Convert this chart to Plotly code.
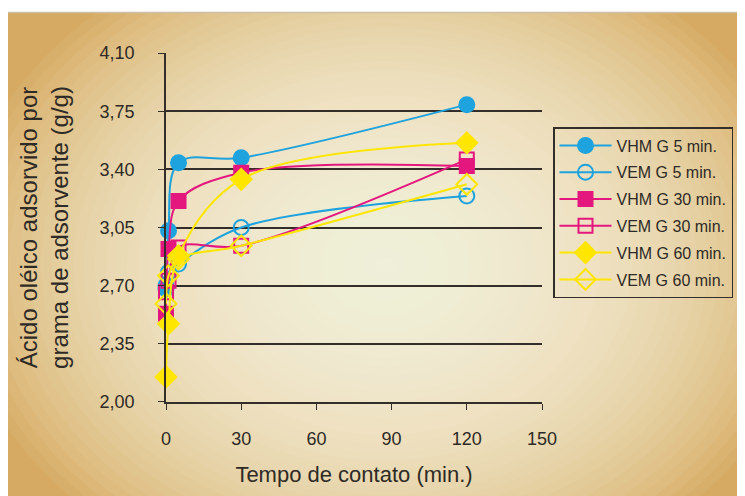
import plotly.graph_objects as go

# ---- data ----
times = [0, 1, 5, 30, 120]
series_names = ["VHM G 5 min.", "VEM G 5 min.", "VHM G 30 min.",
                "VEM G 30 min.", "VHM G 60 min.", "VEM G 60 min."]
vhm_5 = [2.68, 3.03, 3.44, 3.47, 3.79]
vem_5 = [2.70, 2.78, 2.83, 3.05, 3.24]
vhm_30 = [2.53, 2.92, 3.21, 3.38, 3.42]
vem_30 = [2.66, 2.73, 2.93, 2.94, 3.46]
vhm_60 = [2.15, 2.47, 2.88, 3.34, 3.56]
vem_60 = [2.59, 2.76, 2.86, 2.94, 3.31]
ytick_vals = [2.00, 2.35, 2.70, 3.05, 3.40, 3.75, 4.10]
ytick_text = ["2,00", "2,35", "2,70", "3,05", "3,40", "3,75", "4,10"]
xtick_vals = [0, 30, 60, 90, 120, 150]
xtick_text = ["0", "30", "60", "90", "120", "150"]

# ---- geometry (the page adds an 8px body margin) ----
OFF = 8
W, H = 745 - OFF, 496 - OFF
ML = 166 - OFF
MT = 53 - OFF
PR = 542 - OFF          # right edge of plot area
PB = 402 - OFF          # bottom edge of plot area
MR, MB = W - PR, H - PB
PW, PH = PR - ML, PB - MT

def px2x(px):
    """screen pixel -> paper x"""
    return (px - OFF - ML) / PW

def py2y(py):
    """screen pixel -> paper y"""
    return (PB - (py - OFF)) / PH

BLUE = "#1ea3de"
PINK = "#e4177f"
YELLOW = "#ffe600"
DARK = "#332e29"
FONT = "Liberation Sans, Arial, sans-serif"

styles = [
    dict(color=BLUE, symbol="circle", size=15),
    dict(color=BLUE, symbol="circle-open", size=15),
    dict(color=PINK, symbol="square", size=14),
    dict(color=PINK, symbol="square-open", size=14),
    dict(color=YELLOW, symbol="diamond", size=16),
    dict(color=YELLOW, symbol="diamond-open", size=16),
]
values = [vhm_5, vem_5, vhm_30, vem_30, vhm_60, vem_60]

fig = go.Figure()
for name, vals, st in zip(series_names, values, styles):
    fig.add_trace(go.Scatter(
        x=times, y=vals, name=name, mode="lines+markers",
        legendgroup=name,
        line=dict(color=st["color"], width=2, shape="spline", smoothing=1.0),
        marker=dict(color=st["color"], symbol=st["symbol"], size=st["size"],
                    line=dict(color=st["color"], width=2)),
        cliponaxis=False,
    ))

# ---- background: tan panel with radial light centre ----
shapes = []
shapes.append(dict(type="rect", xref="paper", yref="paper", layer="below",
                   x0=px2x(0), x1=px2x(760), y0=py2y(510), y1=py2y(12),
                   fillcolor="#d6aa62", line=dict(width=0)))
N = 40
cx, cy = 385, 265
for k in range(N, 0, -1):
    rx = 430 * k / N
    ry = 340 * k / N
    shapes.append(dict(type="circle", xref="paper", yref="paper", layer="below",
                       x0=px2x(cx - rx), x1=px2x(cx + rx),
                       y0=py2y(cy + ry), y1=py2y(cy - ry),
                       fillcolor="#fdf7e6", opacity=0.058, line=dict(width=0)))
# white strip above the panel
shapes.append(dict(type="rect", xref="paper", yref="paper", layer="below",
                   x0=px2x(0), x1=px2x(760), y0=py2y(12), y1=py2y(0),
                   fillcolor="white", line=dict(width=0)))
# faint grey top edge of panel
shapes.append(dict(type="line", xref="paper", yref="paper", layer="below",
                   x0=px2x(8), x1=px2x(760), y0=py2y(12.5), y1=py2y(12.5),
                   line=dict(color="#cbbfa8", width=1.5)))

fig.update_layout(
    width=W, height=H,
    margin=dict(l=ML, r=MR, t=MT, b=MB, pad=0, autoexpand=False),
    paper_bgcolor="white",
    plot_bgcolor="rgba(0,0,0,0)",
    font=dict(family=FONT, color="#2e2a26"),
    shapes=shapes,
    showlegend=True,
    legend=dict(x=px2x(553), y=py2y(127), xanchor="left", yanchor="top",
                bgcolor="rgba(0,0,0,0)", bordercolor=DARK, borderwidth=1.5,
                font=dict(size=16, family=FONT, color="#2e2a26"),
                itemwidth=52, tracegroupgap=3, itemclick=False),
    xaxis=dict(range=[0, 150], tickvals=xtick_vals, ticktext=xtick_text,
               showgrid=False, zeroline=False, showline=True,
               linecolor=DARK, linewidth=1.5, ticks="outside", ticklen=6,
               tickcolor=DARK, tickwidth=1.2, tickfont=dict(size=18),
               ticklabelstandoff=14,
               title=dict(text="Tempo de contato (min.)", font=dict(size=22),
                          standoff=18)),
    yaxis=dict(range=[1.999, 4.101], tickvals=ytick_vals, ticktext=ytick_text,
               showgrid=True, gridcolor=DARK, gridwidth=1.5, zeroline=False,
               showline=True, linecolor=DARK, linewidth=1.5,
               ticks="outside", ticklen=6, tickcolor=DARK, tickwidth=1.2,
               tickfont=dict(size=18), ticklabelstandoff=20,
               title=dict(text="Ácido oléico adsorvido por<br>grama de adsorvente (g/g)",
                          font=dict(size=24), standoff=24)),
)

fig.write_html("out.html")
